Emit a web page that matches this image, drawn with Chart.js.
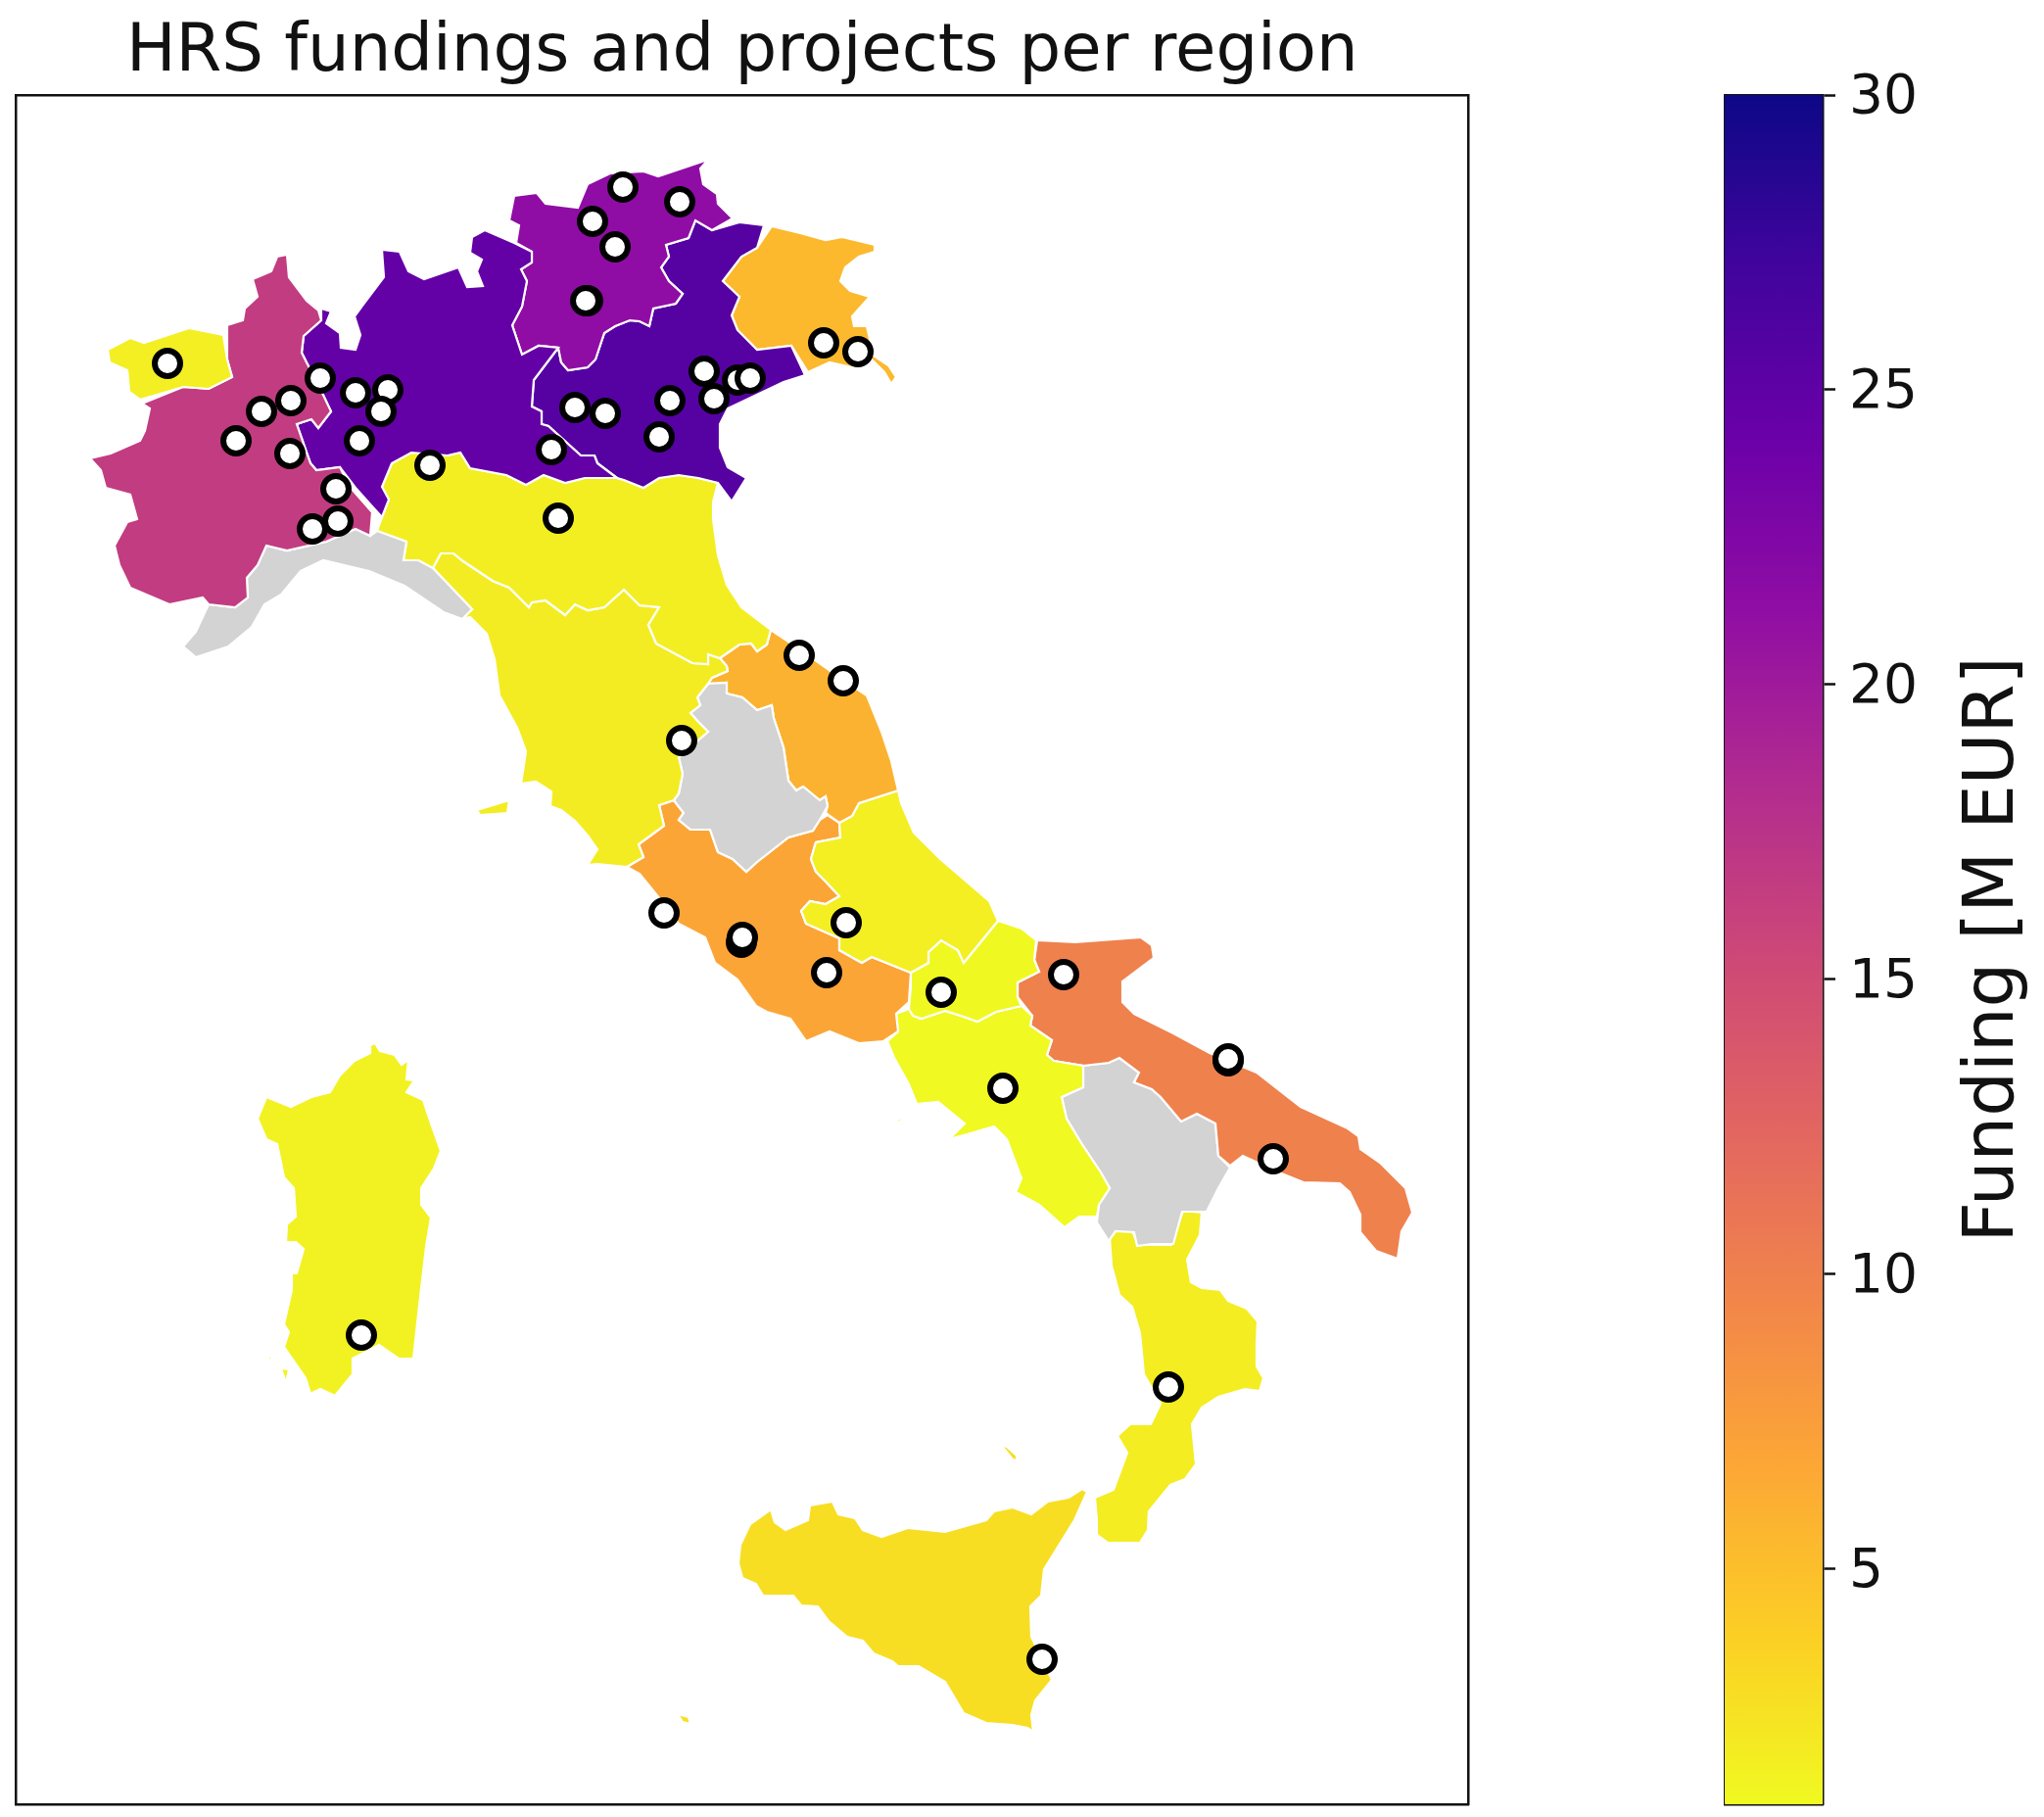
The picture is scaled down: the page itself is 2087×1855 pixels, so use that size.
<!DOCTYPE html>
<html>
<head>
<meta charset="utf-8">
<title>HRS fundings and projects per region</title>
<script src="https://cdn.jsdelivr.net/npm/chart.js@4"></script>
<style>
html,body{margin:0;padding:0;background:#fff;width:2087px;height:1855px;overflow:hidden}
canvas{position:absolute;top:0}
#map{left:0}
#bar{left:1600px}
</style>
</head>
<body>
<canvas id="map" width="1600" height="1855"></canvas>
<canvas id="bar" width="487" height="1855"></canvas>
<script>
const titleText = "HRS fundings and projects per region";
const colorbarLabel = "Funding [M EUR]";
const colorbarTicks = [5, 10, 15, 20, 25, 30];
const colorbarMin = 1;
const colorbarMax = 30;
const plasmaStops = ["#0d0887","#41049d","#6a00a8","#8f0da4","#b12a90","#cc4778","#e16462","#f1844b","#fca636","#fcce25","#f0f921"];
const noDataColor = "#d3d3d3";

// Map frame, in map units
const mapX = [16, 1499.5];
const mapY = [97, 1842];

// Funding per region, M EUR (null = no funding)
const regionFunding = {
  "Valle d'Aosta": 1.7, "Piemonte": 16.6, "Lombardia": 24.6, "Trentino-Alto Adige": 21.3,
  "Veneto": 25.6, "Friuli-Venezia Giulia": 5.4, "Liguria": null, "Emilia-Romagna": 1.75,
  "Toscana": 1.9, "Umbria": null, "Marche": 5.9, "Lazio": 6.9, "Abruzzo": 1.65,
  "Molise": 1.05, "Campania": 1.0, "Puglia": 10.0, "Basilicata": null, "Calabria": 1.8,
  "Sicilia": 2.8, "Sardegna": 1.45
};

const valleDAosta = [[110,357],[133,345],[147,350],[193,335],[228,342],[232,367],[237,385],[213,397],[187,395],[143,408],[132,400],[130,378],[112,370]];
const piemonte = [[293,260],[295,283],[313,307],[325,317],[328,327],[310,343],[308,360],[313,370],[327,397],[338,420],[325,437],[318,428],[303,433],[317,473],[323,480],[347,477],[357,497],[380,523],[378,547],[363,540],[333,553],[293,562],[272,557],[263,577],[252,590],[253,610],[240,620],[213,617],[207,610],[173,617],[133,600],[122,577],[117,557],[130,533],[140,530],[133,505],[108,498],[103,480],[92,468],[113,463],[143,450],[148,440],[153,417],[145,412],[187,395],[213,397],[237,385],[232,367],[232,332],[248,327],[250,315],[263,303],[258,285],[277,277],[283,262]];
const lombardia = [[328,315],[338,318],[333,330],[347,340],[348,355],[363,357],[368,342],[362,323],[370,312],[392,283],[390,255],[408,257],[417,277],[433,285],[468,273],[477,293],[493,292],[487,277],[492,265],[480,258],[482,242],[495,235],[525,248],[543,257],[543,268],[532,275],[538,287],[533,313],[523,332],[533,362],[550,353],[570,355],[545,388],[543,415],[553,420],[553,433],[560,435],[593,465],[607,465],[610,473],[630,488],[597,488],[577,493],[555,485],[537,495],[517,485],[480,478],[470,462],[457,465],[420,462],[400,473],[390,497],[397,510],[390,528],[380,517],[363,498],[347,477],[323,480],[317,473],[303,433],[318,428],[325,437],[338,420],[327,397],[313,370],[308,360],[310,343],[328,327]];
const trentino = [[525,200],[548,197],[557,208],[590,212],[600,188],[623,177],[657,175],[672,180],[723,163],[715,172],[718,188],[732,198],[733,208],[748,223],[727,235],[710,225],[703,243],[680,250],[683,262],[675,273],[683,287],[697,300],[690,310],[667,315],[663,333],[653,328],[643,327],[628,333],[617,340],[608,367],[600,375],[580,378],[573,370],[570,355],[550,353],[533,362],[523,332],[533,313],[538,287],[532,275],[543,268],[543,257],[527,248],[530,230],[520,225]];
const veneto = [[755,227],[780,230],[773,253],[757,262],[738,287],[755,303],[747,322],[753,337],[773,357],[808,353],[822,383],[800,390],[743,417],[735,433],[735,457],[743,477],[762,488],[747,512],[733,493],[713,488],[693,485],[673,488],[657,498],[637,490],[630,488],[610,473],[607,465],[593,465],[560,435],[553,433],[553,420],[543,415],[545,388],[570,355],[573,370],[580,378],[600,375],[608,367],[617,340],[628,333],[643,327],[653,328],[663,333],[667,315],[690,310],[697,300],[683,287],[675,273],[683,262],[680,250],[703,243],[710,225],[727,235]];
const friuli = [[788,231],[817,238],[843,245],[860,242],[893,250],[893,257],[877,262],[863,273],[858,287],[868,297],[888,303],[870,323],[872,333],[885,333],[892,363],[907,373],[915,385],[910,392],[903,380],[890,367],[870,375],[847,370],[825,380],[808,353],[773,357],[753,337],[747,322],[755,303],[738,287],[757,262],[773,253]];
const liguria = [[272,557],[293,562],[333,553],[363,540],[378,547],[385,542],[415,553],[412,572],[427,572],[442,580],[482,622],[472,632],[453,625],[413,598],[377,583],[330,572],[307,583],[287,607],[270,617],[257,640],[233,660],[200,671],[187,660],[200,645],[213,617],[240,620],[253,610],[252,590],[263,577]];
const emilia = [[400,473],[420,462],[457,465],[470,462],[480,478],[517,485],[537,495],[555,485],[577,493],[597,488],[630,488],[637,490],[657,498],[673,488],[693,485],[713,488],[733,493],[728,513],[728,530],[733,567],[742,597],[757,620],[787,643],[783,658],[773,665],[767,657],[755,658],[745,665],[735,672],[723,668],[723,678],[707,677],[670,657],[662,638],[673,620],[653,618],[637,602],[617,620],[600,623],[587,617],[577,628],[557,613],[543,615],[540,620],[520,600],[503,593],[473,573],[463,565],[450,565],[442,580],[427,572],[412,572],[415,553],[385,542],[390,528],[397,510],[390,497]];
const toscana = [[442,580],[450,565],[463,565],[473,573],[503,593],[520,600],[540,620],[543,615],[557,613],[577,628],[587,617],[600,623],[617,620],[637,602],[653,618],[673,620],[662,638],[670,657],[707,677],[723,678],[723,668],[735,672],[742,680],[743,685],[727,692],[723,698],[712,712],[715,720],[705,728],[713,737],[723,747],[708,760],[693,773],[697,790],[693,810],[688,817],[673,822],[678,843],[652,862],[657,875],[640,885],[610,882],[600,883],[610,867],[600,853],[587,838],[573,827],[562,823],[563,808],[547,798],[532,800],[537,767],[528,743],[510,710],[505,673],[497,647],[480,630],[472,632],[482,622]];
const elba = [[487,827],[520,817],[518,830],[490,832]];
const umbria = [[723,698],[742,697],[742,708],[758,712],[773,725],[788,720],[790,733],[800,763],[805,797],[813,807],[820,803],[837,817],[843,813],[845,823],[837,837],[830,848],[805,855],[773,880],[762,890],[748,877],[733,870],[725,847],[705,847],[693,837],[698,830],[688,817],[693,810],[697,790],[693,773],[708,760],[723,747],[713,737],[705,728],[715,720],[712,712]];
const marche = [[787,643],[817,663],[862,695],[885,710],[900,747],[910,777],[917,807],[877,820],[870,833],[857,840],[843,830],[845,823],[843,813],[837,817],[820,803],[813,807],[805,797],[800,763],[790,733],[788,720],[773,725],[758,712],[742,708],[742,697],[723,698],[727,692],[743,685],[742,680],[735,672],[745,665],[755,658],[767,657],[773,665],[783,658]];
const abruzzo = [[917,807],[920,820],[933,850],[960,877],[1010,920],[1019,940],[984,983],[978,970],[961,960],[948,972],[948,983],[930,993],[890,977],[880,983],[857,970],[857,958],[823,943],[818,930],[827,920],[843,923],[857,915],[843,900],[833,890],[828,877],[833,860],[858,855],[857,840],[870,833],[877,820]];
const lazio = [[640,885],[657,875],[652,862],[678,843],[673,822],[688,817],[698,830],[693,837],[705,847],[725,847],[733,870],[748,877],[762,890],[773,880],[805,855],[830,848],[837,837],[845,832],[857,840],[858,855],[833,860],[828,877],[833,890],[843,900],[857,915],[843,923],[827,920],[818,930],[823,943],[857,958],[857,970],[880,983],[890,977],[930,993],[928,1023],[915,1035],[917,1053],[902,1063],[877,1065],[847,1053],[823,1063],[807,1040],[783,1033],[772,1027],[753,1000],[730,983],[720,957],[693,943],[670,913],[653,892]];
const molise = [[1019,940],[1043,948],[1058,960],[1056,980],[1061,992],[1039,1003],[1039,1018],[1043,1027],[1017,1033],[998,1043],[984,1038],[965,1032],[941,1040],[932,1037],[928,1030],[930,1007],[930,993],[948,983],[948,972],[961,960],[978,970],[984,983]];
const campania = [[906,1063],[917,1053],[915,1035],[928,1030],[939,1040],[965,1032],[984,1038],[998,1043],[1017,1033],[1043,1027],[1054,1037],[1052,1047],[1074,1062],[1069,1077],[1076,1083],[1106,1088],[1106,1110],[1084,1120],[1089,1142],[1104,1167],[1124,1197],[1133,1213],[1122,1230],[1120,1242],[1102,1242],[1087,1253],[1061,1230],[1037,1217],[1043,1203],[1028,1163],[1015,1150],[991,1157],[969,1163],[985,1147],[958,1125],[936,1127],[928,1107],[913,1080]];
const ischia = [[915,1142],[923,1143],[917,1146]];
const puglia = [[1059,960],[1098,962],[1165,957],[1176,965],[1178,978],[1146,1002],[1146,1023],[1158,1035],[1198,1055],[1235,1075],[1283,1095],[1328,1130],[1376,1152],[1387,1160],[1389,1173],[1409,1187],[1435,1213],[1442,1238],[1431,1257],[1427,1285],[1405,1277],[1389,1258],[1389,1240],[1378,1217],[1368,1208],[1331,1207],[1306,1197],[1269,1180],[1256,1190],[1244,1180],[1241,1147],[1222,1137],[1206,1145],[1185,1120],[1176,1112],[1158,1105],[1163,1095],[1143,1080],[1132,1085],[1106,1088],[1076,1083],[1069,1077],[1074,1062],[1052,1047],[1054,1037],[1039,1018],[1039,1003],[1061,992],[1056,980]];
const basilicata = [[1106,1088],[1132,1085],[1143,1080],[1163,1095],[1158,1105],[1176,1112],[1185,1120],[1206,1145],[1222,1137],[1241,1147],[1244,1180],[1256,1192],[1244,1213],[1232,1237],[1207,1237],[1198,1270],[1176,1270],[1161,1272],[1158,1258],[1139,1257],[1132,1267],[1120,1248],[1122,1230],[1133,1213],[1124,1197],[1104,1167],[1089,1142],[1084,1120],[1106,1110]];
const calabria = [[1133,1263],[1137,1257],[1156,1257],[1162,1271],[1196,1271],[1208,1236],[1227,1238],[1225,1261],[1212,1286],[1216,1309],[1227,1315],[1246,1317],[1254,1328],[1273,1336],[1284,1349],[1283,1372],[1283,1395],[1290,1407],[1286,1420],[1271,1418],[1244,1426],[1227,1437],[1217,1454],[1221,1495],[1210,1510],[1195,1516],[1173,1543],[1172,1562],[1164,1575],[1131,1575],[1120,1567],[1120,1552],[1118,1529],[1137,1521],[1151,1483],[1141,1466],[1154,1454],[1175,1454],[1185,1433],[1168,1403],[1164,1361],[1156,1334],[1143,1322],[1135,1292]];
const sicilia = [[1105,1520],[1110,1523],[1097,1552],[1066,1602],[1063,1629],[1052,1640],[1053,1671],[1074,1715],[1057,1736],[1053,1751],[1055,1768],[1049,1764],[1034,1761],[1007,1759],[984,1749],[965,1717],[938,1701],[917,1701],[911,1696],[892,1688],[881,1675],[865,1671],[846,1655],[835,1640],[818,1639],[810,1629],[779,1629],[772,1617],[758,1611],[754,1596],[756,1577],[766,1556],[787,1541],[791,1554],[802,1562],[825,1552],[827,1537],[850,1533],[856,1546],[873,1550],[881,1562],[900,1569],[927,1560],[965,1564],[1007,1552],[1015,1543],[1034,1539],[1053,1546],[1070,1533],[1091,1529]];
const pantelleria = [[692,1750],[703,1753],[705,1760],[697,1758]];
const eolie = [[1022,1475],[1028,1477],[1038,1486],[1038,1491],[1034,1490]];
const sardegna = [[383,1065],[388,1073],[403,1077],[410,1087],[417,1082],[415,1102],[423,1103],[415,1115],[432,1123],[440,1147],[450,1175],[443,1193],[430,1213],[430,1230],[440,1243],[435,1273],[428,1333],[425,1360],[422,1387],[407,1387],[387,1373],[360,1387],[360,1403],[342,1425],[327,1418],[317,1423],[312,1407],[290,1375],[295,1360],[290,1352],[298,1317],[298,1300],[303,1300],[310,1275],[302,1268],[292,1268],[293,1250],[302,1242],[300,1213],[290,1202],[283,1168],[272,1163],[263,1142],[272,1120],[297,1130],[318,1120],[337,1115],[347,1098],[362,1083],[378,1075],[378,1067]];
const santAntioco = [[287,1397],[295,1398],[292,1412]];
const sanPietro = [[273,1385],[277,1385],[277,1392]];

const regionShapes = [
  ["Valle d'Aosta", valleDAosta], ["Piemonte", piemonte], ["Lombardia", lombardia],
  ["Trentino-Alto Adige", trentino], ["Veneto", veneto], ["Friuli-Venezia Giulia", friuli],
  ["Liguria", liguria], ["Emilia-Romagna", emilia], ["Toscana", toscana], ["Toscana", elba],
  ["Umbria", umbria], ["Marche", marche], ["Abruzzo", abruzzo], ["Lazio", lazio],
  ["Molise", molise], ["Campania", campania], ["Campania", ischia], ["Puglia", puglia],
  ["Basilicata", basilicata], ["Calabria", calabria], ["Sicilia", sicilia], ["Sicilia", pantelleria],
  ["Sicilia", eolie], ["Sardegna", sardegna], ["Sardegna", santAntioco], ["Sardegna", sanPietro]
];

// HRS project sites, in map units
const projectSites = [[171,371],[327,386],[297,409],[267,420],[241,450],[296,463],[396,398],[363,401],[389,420],[367,450],[439,475],[343,499],[319,540],[345,532],
  [636,191],[694,206],[605,226],[628,252],[600,307],[598,307],[841,350],[876,359],[719,379],[753,388],[766,386],[729,407],[684,409],[587,416],[618,422],[673,446],[563,459],[570,529],
  [816,669],[861,695],[696,756],[678,932],[757,962],[758,957],[864,942],[844,993],[961,1013],
  [1086,995],[1024,1111],[1254,1083],[1254,1081],[1300,1183],[1193,1416],[1064,1694],[369,1363]];

function hexRgb(h){return [1,3,5].map(i=>parseInt(h.substr(i,2),16));}
function plasma(t){
  const p=Math.max(0,Math.min(1,t))*(plasmaStops.length-1), i=Math.min(Math.floor(p),plasmaStops.length-2), f=p-i;
  const a=hexRgb(plasmaStops[i]), b=hexRgb(plasmaStops[i+1]);
  return "rgb("+a.map((v,k)=>Math.round(v+(b[k]-v)*f)).join(",")+")";
}
function fundingColor(v){
  return v===null?noDataColor:plasma(1-(v-colorbarMin)/(colorbarMax-colorbarMin));
}
const xy = pts => pts.map(p=>({x:p[0],y:p[1]}));

const frameBorder = {display:true,color:"#111",width:2.5};
function noAxisSpace(s){
  s.paddingLeft=s.paddingRight=s.paddingTop=s.paddingBottom=0;
  if(s.isHorizontal()) s.height=0; else s.width=0;
}
const hiddenAxis = (pos,min,max,reverse) => ({type:"linear",position:pos,min,max,reverse:!!reverse,
  afterFit:noAxisSpace,
  ticks:{display:false},grid:{display:false,drawTicks:false},border:frameBorder});

const regionDatasets = regionShapes.map(([name,pts])=>({
  label:name,
  data:xy(pts.concat([pts[0]])),
  showLine:true,
  fill:"shape",
  backgroundColor:fundingColor(regionFunding[name]),
  borderColor:"#fff",
  borderWidth:2.2,
  pointRadius:0,
  tension:0,
  order:2
}));

new Chart(document.getElementById("map"),{
  type:"scatter",
  data:{datasets:[{
    label:"HRS projects",
    data:xy(projectSites),
    showLine:false,
    pointRadius:13,
    pointBorderWidth:6,
    pointBackgroundColor:"#fff",
    pointBorderColor:"#000",
    order:1
  }].concat(regionDatasets)},
  options:{
    responsive:false,animation:false,devicePixelRatio:1,
    layout:{autoPadding:false,padding:{left:16,right:100.5,top:0,bottom:13}},
    plugins:{
      legend:{display:false},tooltip:{enabled:false},
      title:{display:true,text:titleText,fullSize:false,color:"#111",
        font:{family:"'DejaVu Sans'",size:67.3,weight:"normal",lineHeight:1},padding:{top:20.5,bottom:9.2}}
    },
    scales:{
      x:hiddenAxis("bottom",mapX[0],mapX[1]),
      y:hiddenAxis("left",mapY[0],mapY[1],true),
      xTop:hiddenAxis("top",mapX[0],mapX[1]),
      yRight:hiddenAxis("right",mapY[0],mapY[1],true)
    }
  }
});

const colorbarLabelPlugin = {
  id:"colorbarLabel",
  afterDraw(chart){
    const c=chart.ctx, a=chart.chartArea;
    c.save();
    c.translate(455,(a.top+a.bottom)/2);
    c.rotate(-Math.PI/2);
    c.font="72px 'DejaVu Sans'";
    c.fillStyle="#111";
    c.textAlign="center";
    c.textBaseline="alphabetic";
    c.fillText(colorbarLabel,0,0);
    c.restore();
  }
};

function barGradient(ctx){
  const chart=ctx.chart;
  if(!chart.chartArea) return plasmaStops[5];
  const y=chart.scales.y;
  const g=chart.ctx.createLinearGradient(0,y.getPixelForValue(colorbarMin),0,y.getPixelForValue(colorbarMax));
  plasmaStops.slice().reverse().forEach((col,i)=>g.addColorStop(i/(plasmaStops.length-1),col));
  return g;
}

new Chart(document.getElementById("bar"),{
  type:"bar",
  data:{labels:[colorbarLabel],datasets:[{
    label:colorbarLabel,
    data:[[colorbarMin,colorbarMax]],
    backgroundColor:barGradient,
    borderWidth:0,
    barPercentage:1,categoryPercentage:1
  }]},
  plugins:[colorbarLabelPlugin],
  options:{
    responsive:false,animation:false,devicePixelRatio:1,
    layout:{autoPadding:false,padding:{left:161,right:96,top:97,bottom:13}},
    plugins:{legend:{display:false},tooltip:{enabled:false},title:{display:false}},
    scales:{
      x:{type:"category",position:"bottom",afterFit:noAxisSpace,ticks:{display:false},grid:{display:false,drawTicks:false},border:frameBorder},
      xTop:{type:"linear",position:"top",afterFit:noAxisSpace,ticks:{display:false},grid:{display:false,drawTicks:false},border:frameBorder},
      yLeft:{type:"linear",position:"left",min:colorbarMin,max:colorbarMax,afterFit:noAxisSpace,ticks:{display:false},grid:{display:false,drawTicks:false},border:frameBorder},
      y:{type:"linear",position:"right",min:colorbarMin,max:colorbarMax,
        afterBuildTicks(scale){scale.ticks=colorbarTicks.map(v=>({value:v}));},
        afterFit(scale){scale.width=130;scale.paddingTop=0;scale.paddingBottom=0;},
        ticks:{color:"#111",padding:14,labelOffset:4,font:{family:"'DejaVu Sans'",size:55},maxRotation:0,autoSkip:false},
        grid:{drawOnChartArea:false,drawTicks:true,tickLength:13,tickWidth:2.5,tickColor:"#111"},
        border:frameBorder}
    }
  }
});
</script>
</body>
</html>
